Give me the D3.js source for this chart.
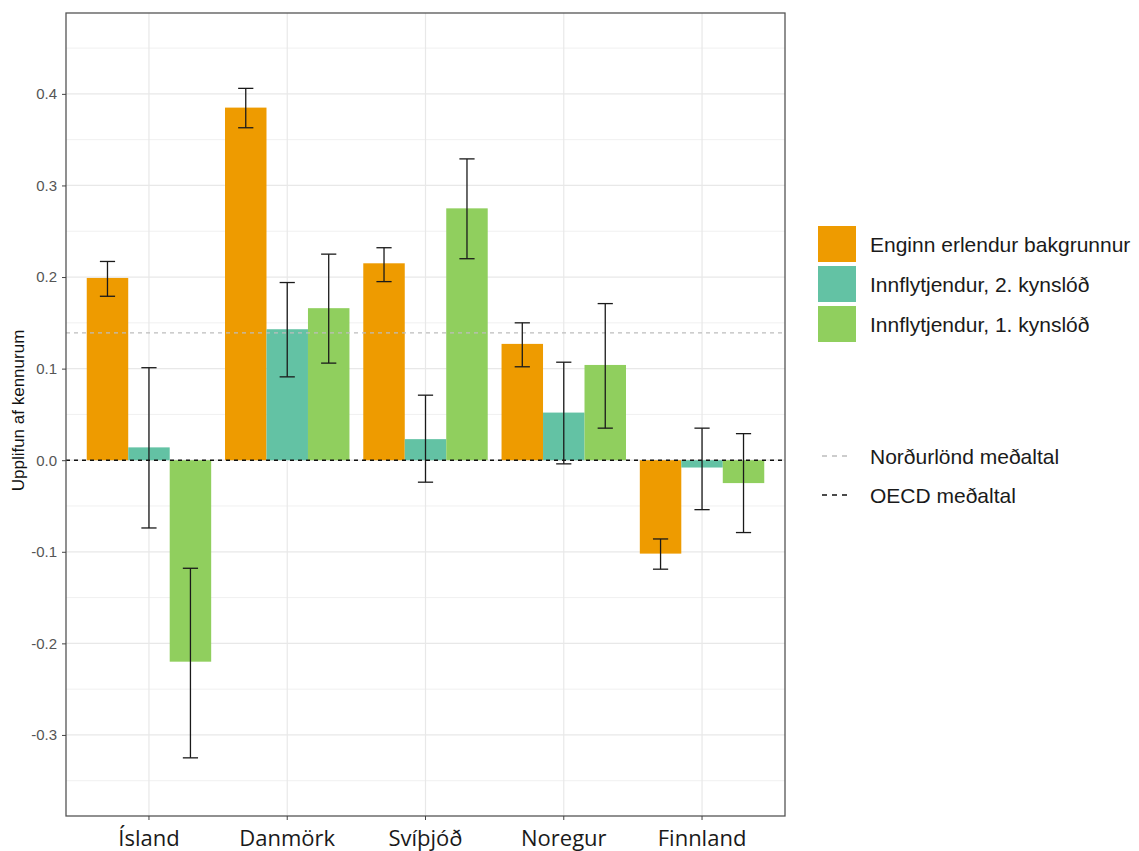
<!DOCTYPE html>
<html>
<head>
<meta charset="utf-8">
<script src="https://cdn.jsdelivr.net/npm/d3@7"></script>
<style>
  body { margin: 0; background: #fff; }
  svg { display: block; }
</style>
</head>
<body>
<svg id="chart" width="1139" height="851"></svg>
<script>
// ---- data ----
const countries = ["Ísland", "Danmörk", "Svíþjóð", "Noregur", "Finnland"];
const seriesNames = ["Enginn erlendur bakgrunnur", "Innflytjendur, 2. kynslóð", "Innflytjendur, 1. kynslóð"];
const seriesColors = ["#EE9B00", "#63C2A4", "#90CF5E"];
// values per series, in country order
const valEnginn = [0.199, 0.385, 0.215, 0.127, -0.102];
const loEnginn  = [0.179, 0.363, 0.195, 0.102, -0.119];
const hiEnginn  = [0.217, 0.406, 0.232, 0.150, -0.086];
const valGen2 = [0.014, 0.143, 0.023, 0.052, -0.008];
const loGen2  = [-0.074, 0.091, -0.024, -0.004, -0.054];
const hiGen2  = [0.101, 0.194, 0.071, 0.107, 0.035];
const valGen1 = [-0.220, 0.166, 0.275, 0.104, -0.025];
const loGen1  = [-0.325, 0.106, 0.220, 0.035, -0.079];
const hiGen1  = [-0.118, 0.225, 0.329, 0.171, 0.029];
const yTicks = [-0.3, -0.2, -0.1, 0.0, 0.1, 0.2, 0.3, 0.4];
const yMinorTicks = [-0.35, -0.25, -0.15, -0.05, 0.05, 0.15, 0.25, 0.35, 0.45];
const nordicMean = 0.139;
const oecdMean = 0.0;
const refLineNames = ["Norðurlönd meðaltal", "OECD meðaltal"];
const yTitle = "Upplifun af kennurum";

const vals = [valEnginn, valGen2, valGen1];
const los = [loEnginn, loGen2, loGen1];
const his = [hiEnginn, hiGen2, hiGen1];

const rows = [];
countries.forEach((c, i) => {
  seriesNames.forEach((s, j) => {
    rows.push({country: c, series: s, color: seriesColors[j], v: vals[j][i], lo: los[j][i], hi: his[j][i]});
  });
});

// ---- layout ----
const panel = {left: 66, top: 13, right: 785, bottom: 816};
const svg = d3.select("#chart");

const x = d3.scaleBand().domain(countries).range([panel.left, panel.right]).paddingInner(0).paddingOuter(0.1);
const step = x.step();
const xc = c => x(c) + x.bandwidth() / 2;
const xs = d3.scaleBand().domain(seriesNames).range([-0.45 * step, 0.45 * step]);
const y = d3.scaleLinear().domain([-0.3885, 0.4883]).range([panel.bottom, panel.top]);

// grid
const g = svg.append("g");
g.selectAll("line.minor").data(yMinorTicks).enter().append("line")
  .attr("x1", panel.left).attr("x2", panel.right)
  .attr("y1", d => y(d)).attr("y2", d => y(d))
  .attr("stroke", "#f0f0f0").attr("stroke-width", 1);
g.selectAll("line.major").data(yTicks).enter().append("line")
  .attr("x1", panel.left).attr("x2", panel.right)
  .attr("y1", d => y(d)).attr("y2", d => y(d))
  .attr("stroke", "#e8e8e8").attr("stroke-width", 1.2);
g.selectAll("line.vmajor").data(countries).enter().append("line")
  .attr("x1", d => xc(d)).attr("x2", d => xc(d))
  .attr("y1", panel.top).attr("y2", panel.bottom)
  .attr("stroke", "#e8e8e8").attr("stroke-width", 1.2);

// bars
svg.append("g").selectAll("rect").data(rows).enter().append("rect")
  .attr("x", d => xc(d.country) + xs(d.series))
  .attr("width", xs.bandwidth())
  .attr("y", d => Math.min(y(d.v), y(0)))
  .attr("height", d => Math.abs(y(d.v) - y(0)))
  .attr("fill", d => d.color);

// reference lines
svg.append("line")
  .attr("x1", panel.left).attr("x2", panel.right)
  .attr("y1", y(nordicMean)).attr("y2", y(nordicMean))
  .attr("stroke", "#bdbdbd").attr("stroke-width", 1.4).attr("stroke-dasharray", "4,4");
svg.append("line")
  .attr("x1", panel.left).attr("x2", panel.right)
  .attr("y1", y(oecdMean)).attr("y2", y(oecdMean))
  .attr("stroke", "#111").attr("stroke-width", 1.5).attr("stroke-dasharray", "4,4");

// error bars
const capHalf = 0.055 * step;
const eb = svg.append("g").selectAll("g").data(rows).enter().append("g")
  .attr("stroke", "#1a1a1a").attr("stroke-width", 1.3);
eb.append("line")
  .attr("x1", d => xc(d.country) + xs(d.series) + xs.bandwidth() / 2)
  .attr("x2", d => xc(d.country) + xs(d.series) + xs.bandwidth() / 2)
  .attr("y1", d => y(d.lo)).attr("y2", d => y(d.hi));
eb.append("line")
  .attr("x1", d => xc(d.country) + xs(d.series) + xs.bandwidth() / 2 - capHalf)
  .attr("x2", d => xc(d.country) + xs(d.series) + xs.bandwidth() / 2 + capHalf)
  .attr("y1", d => y(d.lo)).attr("y2", d => y(d.lo));
eb.append("line")
  .attr("x1", d => xc(d.country) + xs(d.series) + xs.bandwidth() / 2 - capHalf)
  .attr("x2", d => xc(d.country) + xs(d.series) + xs.bandwidth() / 2 + capHalf)
  .attr("y1", d => y(d.hi)).attr("y2", d => y(d.hi));

// panel border
svg.append("rect")
  .attr("x", panel.left).attr("y", panel.top)
  .attr("width", panel.right - panel.left).attr("height", panel.bottom - panel.top)
  .attr("fill", "none").attr("stroke", "#555").attr("stroke-width", 1.3);

// y axis
const yAxis = svg.append("g").attr("transform", `translate(${panel.left},0)`)
  .call(d3.axisLeft(y).tickValues(yTicks).tickSize(4).tickPadding(5).tickFormat(d3.format(".1f")));
yAxis.select(".domain").remove();
yAxis.selectAll(".tick line").attr("stroke", "#444");
yAxis.selectAll("text").attr("font-family", "Liberation Sans, Arial, sans-serif")
  .attr("font-size", 15).attr("fill", "#555")
  .text(d => d3.format(".1f")(d).replace("−", "-"));

// x axis
const xAxis = svg.append("g").attr("transform", `translate(0,${panel.bottom})`)
  .call(d3.axisBottom(x).tickSize(4).tickPadding(10));
xAxis.select(".domain").remove();
xAxis.selectAll(".tick line").attr("stroke", "#444");
xAxis.selectAll("text").attr("font-family", "Open Sans, sans-serif")
  .attr("font-size", 22).attr("fill", "#1a1a1a").attr("dy", "0.71em");

// y title
svg.append("text")
  .attr("transform", `translate(24,${(panel.top + panel.bottom) / 2 - 4}) rotate(-90)`)
  .attr("text-anchor", "middle")
  .attr("font-family", "Liberation Sans, Arial, sans-serif")
  .attr("font-size", 17).attr("fill", "#111")
  .text(yTitle);

// legend
const lg = svg.append("g").attr("font-family", "Liberation Sans, Arial, sans-serif").attr("font-size", 21).attr("fill", "#1a1a1a");
seriesNames.forEach((s, j) => {
  const cy = 244 + j * 40;
  lg.append("rect").attr("x", 818).attr("y", cy - 18).attr("width", 38).attr("height", 36).attr("fill", seriesColors[j]);
  lg.append("text").attr("x", 870).attr("y", cy + 7.5).text(s);
});
const refColors = ["#bdbdbd", "#111"];
refLineNames.forEach((s, j) => {
  const cy = 456 + j * 39;
  lg.append("line").attr("x1", 822).attr("x2", 852).attr("y1", cy).attr("y2", cy)
    .attr("stroke", refColors[j]).attr("stroke-width", 1.5).attr("stroke-dasharray", "5,5");
  lg.append("text").attr("x", 870).attr("y", cy + 7.5).text(s);
});
</script>
</body>
</html>
